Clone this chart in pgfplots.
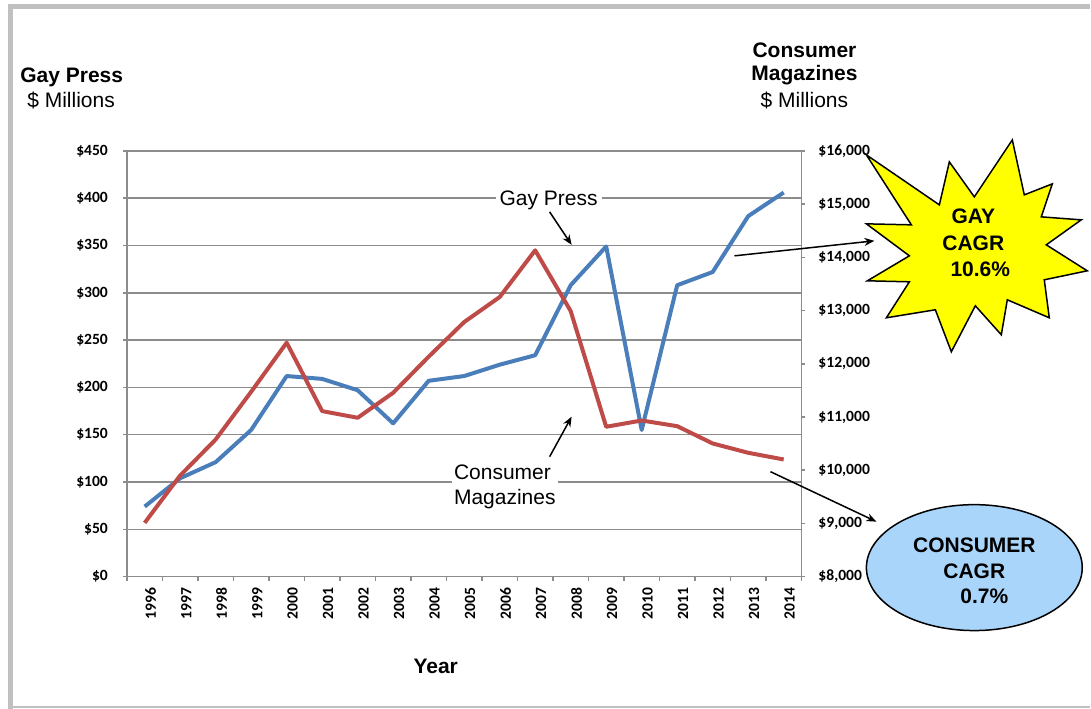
\documentclass[border=0pt]{standalone}
\usepackage{pgfplots}
\pgfplotsset{compat=1.18}
\usepackage{pgfplotstable}
\usepackage{fontspec}
\setmainfont{Liberation Sans}
\newfontfamily\carlito{Carlito}
\usetikzlibrary{arrows.meta}

\definecolor{gpblue}{RGB}{74,126,187}
\definecolor{cmred}{RGB}{190,75,72}
\definecolor{gridgray}{RGB}{140,140,140}
\definecolor{framegray}{RGB}{192,192,192}
\definecolor{ellblue}{RGB}{170,213,250}
\definecolor{staryellow}{RGB}{255,255,0}

% Gay press, $ millions (left axis)
\pgfplotstableread{
year value
1996 74
1997 104
1998 121
1999 155
2000 212
2001 209
2002 197
2003 162
2004 207
2005 212
2006 224
2007 234
2008 308
2009 349
2010 155
2011 308
2012 322
2013 381
2014 406
}\gaypress

% Consumer magazines, $ millions (right axis)
\pgfplotstableread{
year value
1996 9010
1997 9900
1998 10577
1999 11474
2000 12396
2001 11110
2002 10985
2003 11455
2004 12133
2005 12784
2006 13254
2007 14132
2008 12990
2009 10816
2010 10934
2011 10827
2012 10502
2013 10327
2014 10201
}\consumer

\newcommand\tickfont{\fontsize{7.8}{8}\carlito\bfseries}

\begin{document}
\begin{tikzpicture}
\pgfplotsset{
  base/.style={
    scale only axis, width=337.5pt, height=213pt,
    xmin=1995.5, xmax=2014.5,
    tick align=outside,
    axis line style={gridgray, line width=0.75pt},
    tick style={gridgray, line width=0.75pt},
    major tick length=2pt, minor tick length=2pt,
    ticklabel style={font=\tickfont},
    /pgf/number format/assume math mode=true,
  },
}
\begin{axis}[base,
  ymin=0, ymax=450,
  axis x line*=bottom, axis y line*=left,
  ytick={0,50,...,450},
  yticklabel={\$\pgfmathprintnumber{\tick}},
  yticklabel style={xshift=-4pt},
  ymajorgrids, grid style={gridgray, line width=0.75pt},
  xtick={1996,...,2014},
  xticklabel style={rotate=90, anchor=east, yshift=-3pt,
    /pgf/number format/1000 sep={}},
  minor xtick={1995.5,1996.5,...,2014.5},
  major x tick style={draw=none},
]
  \addplot[gpblue, line width=2pt, line join=round] table[x=year, y=value] {\gaypress};
\end{axis}
\begin{axis}[base,
  ymin=8000, ymax=16000,
  axis y line*=right, axis x line=none,
  ytick={8000,9000,...,16000},
  scaled y ticks=false,
  yticklabel={\$\pgfmathprintnumber{\tick}},
  yticklabel style={xshift=3pt, /pgf/number format/1000 sep={,}},
]
  \addplot[cmred, line width=2pt, line join=round] table[x=year, y=value] {\consumer};
\end{axis}

% annotations, in pixel coordinates of the reference (origin top left)
\begin{scope}[x=0.5pt, y=-0.5pt, shift={(-127,-577)}]
  \path (0,0) rectangle (1091,709);
  \fill[framegray] (8,4) rectangle (1091,9);
  \fill[framegray] (8,4) rectangle (13,709);
  \draw[framegray, line width=0.75pt] (13,707.5) -- (1091,707.5);

  \node[anchor=west, inner sep=0, font=\fontsize{10.5}{12}\selectfont\bfseries] at (20,77) {Gay Press};
  \node[anchor=west, inner sep=0, font=\fontsize{10.5}{12}\selectfont] at (27,101) {\$ Millions};
  \node[inner sep=0, font=\fontsize{10.5}{12}\selectfont\bfseries] at (805,50) {Consumer};
  \node[inner sep=0, font=\fontsize{10.5}{12}\selectfont\bfseries] at (805,75) {Magazines};
  \node[inner sep=0, font=\fontsize{10.5}{12}\selectfont] at (805,101) {\$ Millions};
  \node[inner sep=0, font=\fontsize{10.5}{12}\selectfont\bfseries] at (436,667) {Year};

  \node[fill=white, inner xsep=2pt, inner ysep=1pt, font=\fontsize{10.5}{12}\selectfont] at (549,200) {Gay Press};
  \draw[line width=0.75pt, -{Stealth[length=5pt, width=4pt]}] (550,212) -- (572,245);
  \node[fill=white, anchor=north west, inner xsep=1pt, inner ysep=2pt, align=left,
    font=\fontsize{10.5}{12.5}\selectfont] at (452,461) {Consumer\\Magazines};
  \draw[line width=0.75pt, -{Stealth[length=5pt, width=4pt]}] (550,457) -- (572,417);

  \filldraw[fill=staryellow, draw=black, line width=0.75pt]
    (867,155) -- (940,205) -- (950,162) -- (975,197) -- (1013,140) -- (1025,195)
    -- (1053,184) -- (1042,217) -- (1082,220) -- (1047,245) -- (1088,271)
    -- (1045,280) -- (1050,318) -- (1008,300) -- (1002,335) -- (976,306)
    -- (952,352) -- (936,310) -- (887,318) -- (910,282) -- (868,281)
    -- (910,256) -- (867,224) -- (912,225) -- cycle;
  \node[inner sep=0, font=\fontsize{10.5}{12}\selectfont\bfseries] at (974,216) {GAY};
  \node[inner sep=0, font=\fontsize{10.5}{12}\selectfont\bfseries] at (974,243) {CAGR};
  \node[inner sep=0, font=\fontsize{10.5}{12}\selectfont\bfseries] at (981,269) {10.6\%};
  \draw[line width=0.75pt, -{Stealth[length=5pt, width=4pt]}] (735,256) -- (875,241);

  \draw[fill=ellblue, line width=0.75pt] (975,568) ellipse [x radius=54pt, y radius=31.5pt];
  \node[inner sep=0, font=\fontsize{10.5}{12}\selectfont\bfseries] at (975,546) {CONSUMER};
  \node[inner sep=0, font=\fontsize{10.5}{12}\selectfont\bfseries] at (975,572) {CAGR};
  \node[inner sep=0, font=\fontsize{10.5}{12}\selectfont\bfseries] at (985,597) {0.7\%};
  \draw[line width=0.75pt, -{Stealth[length=5pt, width=4pt]}] (771,472) -- (877,522);
\end{scope}
\end{tikzpicture}
\end{document}
